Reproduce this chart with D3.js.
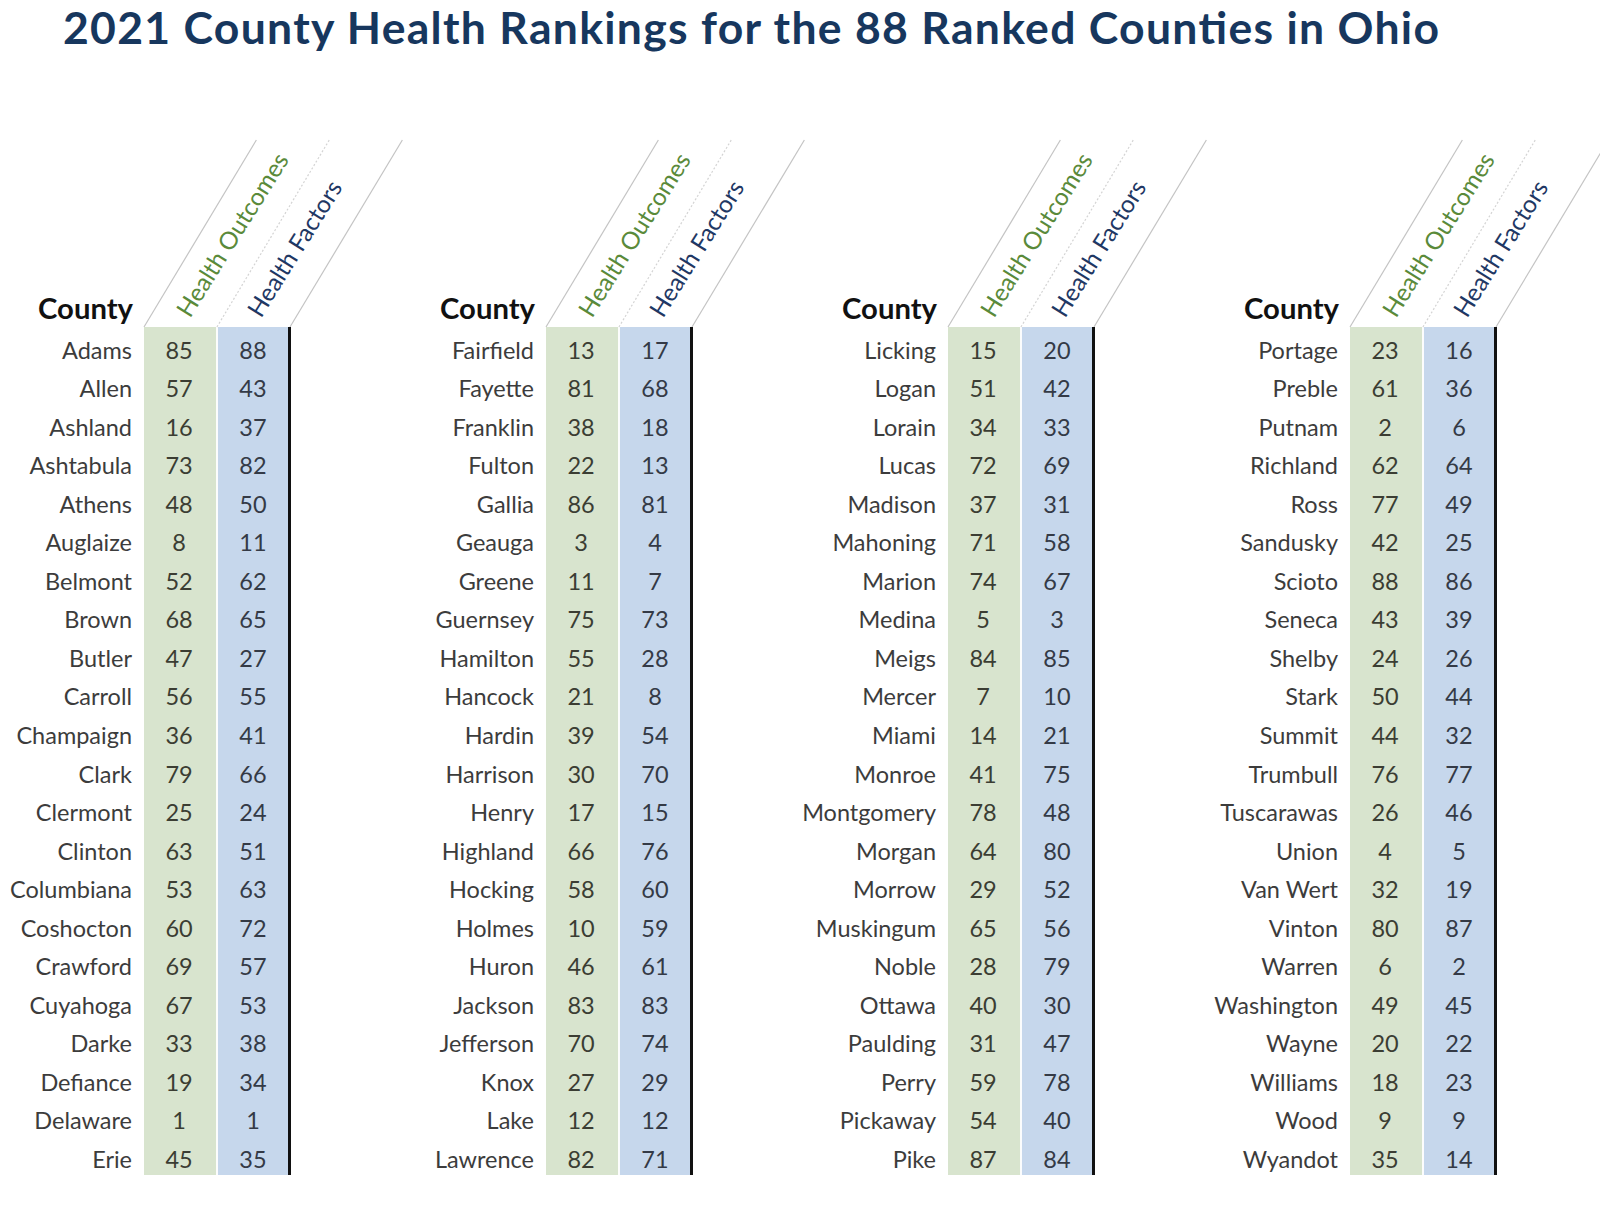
<!DOCTYPE html>
<html><head><meta charset="utf-8">
<script src="https://cdn.jsdelivr.net/npm/d3@7"></script>
<style>body{margin:0;background:#fff}</style>
</head><body>
<svg id="chart" width="1600" height="1205"></svg>
<script>
const title = "2021 County Health Rankings for the 88 Ranked Counties in Ohio";
const countyHeader = "County";
const measures = ["Health Outcomes", "Health Factors"];
const counties = [
 "Adams","Allen","Ashland","Ashtabula","Athens","Auglaize","Belmont","Brown","Butler","Carroll","Champaign","Clark","Clermont","Clinton","Columbiana","Coshocton","Crawford","Cuyahoga","Darke","Defiance","Delaware","Erie",
 "Fairfield","Fayette","Franklin","Fulton","Gallia","Geauga","Greene","Guernsey","Hamilton","Hancock","Hardin","Harrison","Henry","Highland","Hocking","Holmes","Huron","Jackson","Jefferson","Knox","Lake","Lawrence",
 "Licking","Logan","Lorain","Lucas","Madison","Mahoning","Marion","Medina","Meigs","Mercer","Miami","Monroe","Montgomery","Morgan","Morrow","Muskingum","Noble","Ottawa","Paulding","Perry","Pickaway","Pike",
 "Portage","Preble","Putnam","Richland","Ross","Sandusky","Scioto","Seneca","Shelby","Stark","Summit","Trumbull","Tuscarawas","Union","Van Wert","Vinton","Warren","Washington","Wayne","Williams","Wood","Wyandot"
];
const healthOutcomes = [
 85,57,16,73,48,8,52,68,47,56,36,79,25,63,53,60,69,67,33,19,1,45,
 13,81,38,22,86,3,11,75,55,21,39,30,17,66,58,10,46,83,70,27,12,82,
 15,51,34,72,37,71,74,5,84,7,14,41,78,64,29,65,28,40,31,59,54,87,
 23,61,2,62,77,42,88,43,24,50,44,76,26,4,32,80,6,49,20,18,9,35
];
const healthFactors = [
 88,43,37,82,50,11,62,65,27,55,41,66,24,51,63,72,57,53,38,34,1,35,
 17,68,18,13,81,4,7,73,28,8,54,70,15,76,60,59,61,83,74,29,12,71,
 20,42,33,69,31,58,67,3,85,10,21,75,48,80,52,56,79,30,47,78,40,84,
 16,36,6,64,49,25,86,39,26,44,32,77,46,5,19,87,2,45,22,23,9,14
];

const rowsPerPanel = 22;
const nPanels = Math.ceil(counties.length / rowsPerPanel);
const FONT = "Lato, 'Open Sans', sans-serif";

const svg = d3.select("#chart");

function fitSize(text, weight, target) {
  const t = svg.append("text").attr("font-family", FONT).attr("font-weight", weight)
    .attr("font-size", 100).text(text);
  const w = t.node().getComputedTextLength();
  t.remove();
  return 100 * target / w;
}

const rows = counties.map((c, i) => ({
  county: c, panel: Math.floor(i / rowsPerPanel), row: i % rowsPerPanel,
  values: [healthOutcomes[i], healthFactors[i]]
}));

const panelX = d3.scaleLinear().domain([0, nPanels - 1]).range([144, 1350]);
const colX = d3.scaleBand().domain(measures).range([0, 146]).paddingInner(0.025);
const rowY = d3.scaleBand().domain(d3.range(rowsPerPanel)).range([327, 1175]);
const colFill = d3.scaleOrdinal().domain(measures).range(["#d8e4ce", "#c6d7ec"]);
const headFill = d3.scaleOrdinal().domain(measures).range(["#5a8a3a", "#1f3864"]);
const numFill = d3.scaleOrdinal().domain(measures).range(["#3b3d33", "#343a46"]);

const labelSize = fitSize("Columbiana", 400, 122);
const numSize = labelSize;
const headSize = fitSize("County", 700, 95);
const rotSize = fitSize("Health Outcomes", 400, 188);

svg.append("text").attr("x", 63).attr("y", 44)
  .attr("font-family", FONT).attr("font-weight", 700).attr("font-size", 44.5)
  .attr("textLength", 1376).attr("lengthAdjust", "spacing")
  .attr("fill", "#17375e").text(title);

const angle = 59;
const rise = 187;
const run = rise / Math.tan(angle * Math.PI / 180);
const tableTop = rowY.range()[0];

const panels = svg.selectAll("g.panel").data(d3.range(nPanels)).join("g")
  .attr("class", "panel")
  .attr("transform", p => `translate(${panelX(p)},0)`);

panels.each(function() {
  const g = d3.select(this);
  const xs = [0, colX(measures[1]) - 1, colX.range()[1]];
  xs.forEach((x, k) => {
    g.append("line").attr("x1", x).attr("y1", tableTop)
      .attr("x2", x + run).attr("y2", tableTop - rise)
      .attr("stroke", k === 1 ? "#d4d4d4" : "#c4c4c4")
      .attr("stroke-width", 1.2)
      .attr("stroke-dasharray", k === 1 ? "2,2" : null);
  });
  measures.forEach((m, k) => {
    const x0 = colX(m) + (k === 0 ? 46 : 43);
    g.append("text")
      .attr("transform", `translate(${x0},${tableTop - 8}) rotate(${-58})`)
      .attr("font-family", FONT).attr("font-size", rotSize)
      .attr("fill", headFill(m)).text(m);
  });
  g.append("text").attr("x", -11).attr("y", tableTop - 8)
    .attr("text-anchor", "end").attr("font-family", FONT).attr("font-weight", 700)
    .attr("font-size", headSize).attr("fill", "#111").text(countyHeader);
  g.selectAll("rect.col").data(measures).join("rect").attr("class", "col")
    .attr("x", m => colX(m)).attr("width", colX.bandwidth())
    .attr("y", rowY.range()[0]).attr("height", rowY.range()[1] - rowY.range()[0])
    .attr("fill", m => colFill(m));
  g.append("rect").attr("x", colX.range()[1] - 2).attr("width", 3)
    .attr("y", rowY.range()[0]).attr("height", rowY.range()[1] - rowY.range()[0])
    .attr("fill", "#111");
});

const rowG = panels.selectAll("g.row").data(p => rows.filter(r => r.panel === p)).join("g")
  .attr("class", "row")
  .attr("transform", d => `translate(0,${rowY(d.row) + rowY.bandwidth() / 2 + 4})`);

rowG.append("text").attr("x", -12).attr("dy", "0.35em").attr("text-anchor", "end")
  .attr("font-family", FONT).attr("font-size", labelSize).attr("fill", "#3c3c3c")
  .text(d => d.county);

rowG.selectAll("text.num").data(d => d.values.map((v, k) => ({ v, m: measures[k] }))).join("text")
  .attr("class", "num")
  .attr("x", d => colX(d.m) + colX.bandwidth() / 2 - 1)
  .attr("dy", "0.35em").attr("text-anchor", "middle")
  .attr("font-family", FONT).attr("font-size", numSize).attr("fill", d => numFill(d.m))
  .text(d => d.v);
</script>
</body></html>
